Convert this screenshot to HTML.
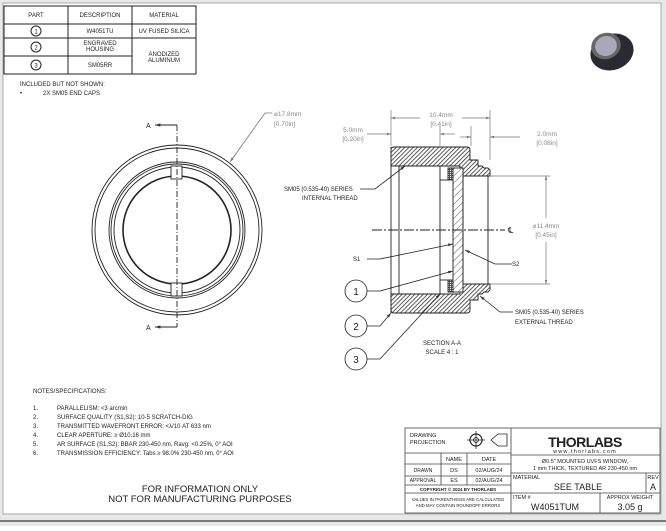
<!DOCTYPE html>
<html><head><meta charset="utf-8"><style>
html,body{margin:0;padding:0;background:#fff;}
body{width:666px;height:526px;overflow:hidden;font-family:"Liberation Sans",sans-serif;}
svg text{font-family:"Liberation Sans",sans-serif;}
</style></head><body>
<svg width="666" height="526" viewBox="0 0 666 526" xmlns="http://www.w3.org/2000/svg">
<defs>
<pattern id="h" width="3" height="3" patternUnits="userSpaceOnUse" patternTransform="rotate(45)"><rect width="3" height="3" fill="#fff"/><line x1="0" y1="0" x2="0" y2="3" stroke="#333" stroke-width="1.6"/></pattern>
<pattern id="w" width="5" height="5" patternUnits="userSpaceOnUse" patternTransform="rotate(45)"><rect width="5" height="5" fill="#fff"/><line x1="0" y1="0" x2="0" y2="5" stroke="#333" stroke-width="0.8"/></pattern>
<pattern id="x" width="2" height="2" patternUnits="userSpaceOnUse"><rect width="2" height="2" fill="#555"/><rect width="1" height="1" fill="#fff"/></pattern>
<marker id="a" viewBox="0 0 10 10" refX="10" refY="5" markerWidth="6" markerHeight="6" orient="auto-start-reverse"><path d="M0,2 L10,5 L0,8z" fill="#333"/></marker>
<marker id="ag" viewBox="0 0 10 10" refX="10" refY="5" markerWidth="6" markerHeight="6" orient="auto-start-reverse"><path d="M0,2 L10,5 L0,8z" fill="#777"/></marker>
</defs>
<rect x="0" y="0" width="666" height="526" fill="#e8e8e8"/>
<rect x="3" y="3" width="658" height="511" fill="#fff" stroke="#aaa" stroke-width="1"/>
<line x1="0" y1="521" x2="666" y2="521" stroke="#555" stroke-width="1.5"/>

<!-- parts table -->
<g stroke="#222" stroke-width="1" fill="none">
<rect x="4" y="6" width="192" height="68"/>
<line x1="68" y1="6" x2="68" y2="74"/><line x1="132" y1="6" x2="132" y2="74"/>
<line x1="4" y1="24" x2="196" y2="24"/><line x1="4" y1="38" x2="196" y2="38"/>
<line x1="4" y1="56" x2="132" y2="56"/>
<circle cx="36" cy="31" r="5"/><circle cx="36" cy="47" r="5"/><circle cx="36" cy="65" r="5"/>
</g>
<g font-size="6" fill="#222" text-anchor="middle">
<text x="36" y="17">PART</text><text x="100" y="17">DESCRIPTION</text><text x="164" y="17">MATERIAL</text>
<text x="36" y="33.5" font-size="6">1</text><text x="36" y="49.5">2</text><text x="36" y="67.5">3</text>
<text x="100" y="33">W4051TU</text><text x="164" y="33">UV FUSED SILICA</text>
<text x="100" y="45">ENGRAVED</text><text x="100" y="51">HOUSING</text>
<text x="164" y="56">ANODIZED</text><text x="164" y="62">ALUMINUM</text>
<text x="100" y="67">SM05RR</text>
</g>
<g font-size="6" fill="#222">
<text x="20" y="86">INCLUDED BUT NOT SHOWN:</text>
<text x="20" y="95">•</text><text x="43" y="95">2X SM05 END CAPS</text>
</g>

<!-- product image -->
<g>
<ellipse cx="612" cy="52" rx="22" ry="18" fill="#2a2a35" transform="rotate(-20 612 52)"/>
<ellipse cx="606" cy="46" rx="15" ry="13" fill="#666" transform="rotate(-20 606 46)"/>
<ellipse cx="606" cy="46" rx="11" ry="10" fill="#a8a8b8" transform="rotate(-20 606 46)"/>
</g>

<!-- front view -->
<g stroke="#222" fill="none" stroke-width="0.9">
<circle cx="177" cy="230" r="85"/><circle cx="177" cy="230" r="82"/>
<circle cx="177" cy="230" r="68"/><circle cx="177" cy="230" r="66"/><circle cx="177" cy="230" r="63"/>
<circle cx="177" cy="230" r="54" stroke-width="1.6"/>
<rect x="171" y="166" width="11" height="13" fill="#fff"/>
<rect x="171" y="283" width="11" height="13" fill="#fff"/>
<line x1="177" y1="125" x2="177" y2="327" stroke-dasharray="6,2,1,2"/>
<line x1="177" y1="125" x2="155" y2="125" marker-end="url(#a)"/>
<line x1="177" y1="327" x2="155" y2="327" marker-end="url(#a)"/>
</g>
<text x="146" y="128" font-size="7" fill="#222">A</text>
<text x="146" y="330" font-size="7" fill="#222">A</text>
<polyline points="272,113 265,113 230,162" fill="none" stroke="#777" stroke-width="0.8" marker-end="url(#ag)"/>
<text x="274" y="116" font-size="6.5" fill="#888">⌀17.8mm</text>
<text x="274" y="126" font-size="6.5" fill="#888">[0.70in]</text>

<!-- section view -->
<g stroke="#222" stroke-width="0.9">
<path d="M391,150 Q391,147 394,147 L467,147 Q470,147 470,150 L470,160 L478,160 L478,166 L482,166 L484,168 L488,168 L490,170 L490,176 L460,176 L460,166 L391,166 Z" fill="url(#h)"/>
<path d="M391,310 Q391,313 394,313 L467,313 Q470,313 470,310 L470,300 L478,300 L478,294 L482,294 L484,292 L488,292 L490,290 L490,284 L460,284 L460,294 L391,294 Z" fill="url(#h)"/>
<rect x="448" y="168" width="6" height="12" fill="url(#x)"/>
<rect x="448" y="280" width="6" height="12" fill="url(#x)"/>
<rect x="453" y="168" width="10" height="124" fill="url(#w)"/>
<line x1="440" y1="166" x2="440" y2="294" fill="none"/>
<line x1="440" y1="180" x2="448" y2="180"/><line x1="440" y1="280" x2="448" y2="280"/>
<line x1="399" y1="166" x2="399" y2="294"/>
<line x1="391" y1="147" x2="391" y2="313"/>
<line x1="463" y1="176" x2="463" y2="284"/>
<line x1="488" y1="176" x2="488" y2="284"/>
<line x1="372" y1="230" x2="505" y2="230" stroke-dasharray="10,2,2,2"/>
</g>
<text x="508" y="233" font-size="8" fill="#222">℄</text>
<!-- dims -->
<g stroke="#777" stroke-width="0.7" fill="none">
<line x1="391" y1="110" x2="391" y2="146"/><line x1="490" y1="110" x2="490" y2="160"/>
<line x1="440" y1="126" x2="440" y2="146"/><line x1="471" y1="126" x2="471" y2="146"/>
<line x1="391" y1="118" x2="420" y2="118" marker-start="url(#ag)"/><line x1="462" y1="118" x2="490" y2="118" marker-end="url(#ag)"/>
<line x1="367" y1="134" x2="391" y2="134" marker-end="url(#ag)"/><line x1="455" y1="134" x2="440" y2="134" marker-end="url(#ag)"/>
<line x1="471" y1="137" x2="460" y2="137"/><line x1="520" y1="137" x2="490" y2="137" marker-end="url(#ag)"/>
<line x1="471" y1="137" x2="465" y2="137" marker-end="url(#ag)" transform="rotate(180 468 137)"/>
<line x1="490" y1="176" x2="550" y2="176"/><line x1="490" y1="284" x2="550" y2="284"/>
<line x1="546" y1="218" x2="546" y2="176" marker-end="url(#ag)"/><line x1="546" y1="242" x2="546" y2="284" marker-end="url(#ag)"/>
</g>
<g font-size="6.5" fill="#888" text-anchor="middle">
<text x="441" y="117">10.4mm</text><text x="441" y="126">[0.41in]</text>
<text x="353" y="132">5.0mm</text><text x="353" y="141">[0.20in]</text>
<text x="547" y="136">2.0mm</text><text x="547" y="145">[0.08in]</text>
<text x="546" y="228">⌀11.4mm</text><text x="546" y="237">[0.45in]</text>
</g>
<!-- leaders -->
<g stroke="#222" stroke-width="0.8" fill="none">
<polyline points="360,189 375,189 405,166" marker-end="url(#a)"/>
<polyline points="367,259 380,259 453,244" marker-end="url(#a)"/>
<polyline points="512,264 495,264 465,250" marker-end="url(#a)"/>
<polyline points="367,291 380,291 453,271" marker-end="url(#a)"/>
<polyline points="367,326 380,326 391,313" marker-end="url(#a)"/>
<polyline points="367,359 380,359 440,294" marker-end="url(#a)"/>
<polyline points="513,312 500,312 480,296" marker-end="url(#a)"/>
<circle cx="356" cy="291" r="11" fill="#fff"/><circle cx="356" cy="326" r="11" fill="#fff"/><circle cx="356" cy="359" r="11" fill="#fff"/>
</g>
<g font-size="10" fill="#222" text-anchor="middle">
<text x="356" y="295">1</text><text x="356" y="330">2</text><text x="356" y="363">3</text>
</g>
<g font-size="6" fill="#222">
<text x="284" y="191">SM05 (0.535-40) SERIES</text>
<text x="302" y="200">INTERNAL THREAD</text>
<text x="353" y="261">S1</text>
<text x="512" y="266">S2</text>
<text x="515" y="314">SM05 (0.535-40) SERIES</text>
<text x="515" y="324">EXTERNAL THREAD</text>
<text x="442" y="345" text-anchor="middle">SECTION A-A</text>
<text x="442" y="354" text-anchor="middle">SCALE 4 : 1</text>
</g>

<!-- notes -->
<g font-size="6" fill="#222">
<text x="33" y="393">NOTES/SPECIFICATIONS:</text>
<text x="33" y="410">1.</text><text x="57" y="410">PARALLELISM: &lt;3 arcmin</text>
<text x="33" y="419">2.</text><text x="57" y="419">SURFACE QUALITY (S1,S2): 10-5 SCRATCH-DIG</text>
<text x="33" y="428">3.</text><text x="57" y="428">TRANSMITTED WAVEFRONT ERROR: &lt;λ/10 AT 633 nm</text>
<text x="33" y="437">4.</text><text x="57" y="437">CLEAR APERTURE: ≥ Ø10.16 mm</text>
<text x="33" y="446">5.</text><text x="57" y="446">AR SURFACE (S1,S2): BBAR 230-450 nm, Ravg: &lt;0.25%, 0° AOI</text>
<text x="33" y="455">6.</text><text x="57" y="455">TRANSMISSION EFFICIENCY: Tabs ≥ 98.0% 230-450 nm, 0° AOI</text>
</g>
<g font-size="9.5" fill="#222" text-anchor="middle">
<text x="200" y="492">FOR INFORMATION ONLY</text>
<text x="200" y="502">NOT FOR MANUFACTURING PURPOSES</text>
</g>

<!-- title block -->
<g stroke="#444" stroke-width="0.8" fill="none">
<rect x="405" y="428" width="255" height="85"/>
<line x1="511" y1="428" x2="511" y2="513"/>
<line x1="405" y1="453" x2="511" y2="453"/><line x1="405" y1="464" x2="511" y2="464"/>
<line x1="405" y1="476" x2="511" y2="476"/><line x1="405" y1="485" x2="511" y2="485"/>
<line x1="405" y1="493" x2="511" y2="493"/>
<line x1="441" y1="453" x2="441" y2="485"/><line x1="467" y1="453" x2="467" y2="485"/>
<line x1="511" y1="455" x2="660" y2="455"/><line x1="511" y1="473" x2="660" y2="473"/>
<line x1="511" y1="493" x2="660" y2="493"/>
<line x1="646" y1="473" x2="646" y2="493"/><line x1="600" y1="493" x2="600" y2="513"/>
<circle cx="476" cy="440" r="6" stroke="#222" stroke-width="1.2"/><circle cx="476" cy="440" r="2.5" stroke="#222"/>
<line x1="467" y1="440" x2="485" y2="440" stroke="#222"/><line x1="476" y1="431" x2="476" y2="449" stroke="#222"/>
<path d="M491,440 L498,434 L507,434 L507,446 L498,446 Z" stroke="#222"/>
</g>
<g font-size="5.5" fill="#222">
<text x="410" y="437">DRAWING</text><text x="410" y="444">PROJECTION</text>
<text x="454" y="461" text-anchor="middle">NAME</text><text x="489" y="461" text-anchor="middle">DATE</text>
<text x="423" y="472" text-anchor="middle" font-size="5">DRAWN</text><text x="454" y="472" text-anchor="middle">DS</text><text x="489" y="472" text-anchor="middle">02/AUG/24</text>
<text x="423" y="482" text-anchor="middle" font-size="5">APPROVAL</text><text x="454" y="482" text-anchor="middle">ES</text><text x="489" y="482" text-anchor="middle">02/AUG/24</text>
<text x="458" y="491" text-anchor="middle" font-size="4.5" font-weight="bold">COPYRIGHT © 2024 BY THORLABS</text>
<text x="458" y="501" text-anchor="middle" font-size="4.3">VALUES IN PARENTHESIS ARE CALCULATED</text>
<text x="458" y="507" text-anchor="middle" font-size="4.3">AND MAY CONTAIN ROUNDOFF ERRORS</text>
<text x="585" y="447" text-anchor="middle" font-size="14" font-weight="bold" letter-spacing="-0.5">THORLABS</text>
<text x="585" y="453" text-anchor="middle" font-size="5.5" letter-spacing="1.2">www.thorlabs.com</text>
<text x="585" y="463" text-anchor="middle">Ø0.5" MOUNTED UVFS WINDOW,</text>
<text x="585" y="470" text-anchor="middle">1 mm THICK, TEXTURED AR 230-450 nm</text>
<text x="513" y="479">MATERIAL</text>
<text x="578" y="490" text-anchor="middle" font-size="9">SEE TABLE</text>
<text x="653" y="479" text-anchor="middle">REV</text>
<text x="653" y="490" text-anchor="middle" font-size="9">A</text>
<text x="513" y="499">ITEM #</text>
<text x="555" y="510" text-anchor="middle" font-size="9">W4051TUM</text>
<text x="630" y="499" text-anchor="middle">APPROX WEIGHT</text>
<text x="630" y="510" text-anchor="middle" font-size="9">3.05 g</text>
</g>
</svg>
</body></html>
